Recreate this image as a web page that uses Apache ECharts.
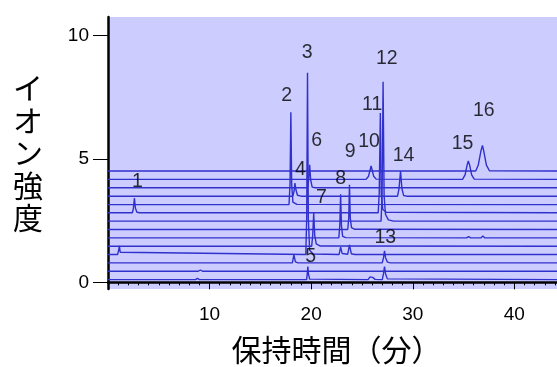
<!DOCTYPE html>
<html>
<head>
<meta charset="utf-8">
<script src="https://cdn.jsdelivr.net/npm/echarts@6/dist/echarts.min.js"></script>
<style>
html,body{margin:0;padding:0;background:#fff;}
#c{width:557px;height:367px;}
</style>
</head>
<body>
<div id="c"></div>
<script>
// --- data (retention time [min], ion intensity incl. trace offset) ---
const xTicks = [10, 20, 30, 40];
const yTicks = [0, 5, 10];
const trace0 = [[0,4.51],[36.2,4.51],[36.45,4.75],[36.7,5.3],[36.86,5.55],[37.0,5.3],[37.25,4.75],[37.55,4.52],[44.2,4.51]];
const trace1 = [[0,4.17],[25.4,4.17],[25.65,4.3],[25.8,4.55],[25.9,4.72],[26.0,4.55],[26.15,4.3],[26.4,4.18],[34.9,4.17],[35.15,4.35],[35.35,4.75],[35.47,4.92],[35.6,4.75],[35.8,4.35],[36.05,4.18],[44.2,4.17]];
const trace2 = [[0,3.83],[19.65,3.83],[19.75,4.15],[19.85,4.76],[19.95,4.15],[20.1,3.86],[20.4,3.83],[44.2,3.83]];
const trace3 = [[0,3.49],[18.2,3.49],[18.32,3.7],[18.4,4.02],[18.5,3.75],[18.65,3.53],[19.0,3.49],[28.5,3.49],[28.65,3.8],[28.8,4.51],[28.93,3.8],[29.1,3.52],[29.4,3.49],[44.2,3.49]];
const trace4 = [[0,3.15],[17.82,3.15],[17.92,4.0],[18.0,6.89],[18.08,4.0],[18.2,3.25],[18.6,3.16],[44.2,3.15]];
const trace5 = [[0,2.82],[2.4,2.82],[2.5,3.0],[2.6,3.41],[2.7,3.0],[2.85,2.84],[3.1,2.82],[26.6,2.82],[26.7,3.6],[26.81,6.86],[26.9,3.6],[27.05,2.95],[27.4,2.84],[44.2,2.82]];
const trace6 = [[0,2.48],[26.88,2.48],[26.98,3.5],[27.08,8.13],[27.18,3.5],[27.32,2.75],[27.6,2.53],[28.1,2.48],[44.2,2.48]];
const trace7 = [[0,2.14],[23.6,2.14],[23.7,2.6],[23.77,3.95],[23.85,2.6],[23.97,2.22],[24.3,2.15],[44.2,2.14]];
const trace8 = [[0,1.80],[22.72,1.80],[22.82,2.3],[22.9,3.57],[22.98,2.3],[23.1,1.86],[23.4,1.81],[35.3,1.80],[35.5,1.85],[35.7,1.80],[36.7,1.80],[36.9,1.88],[37.1,1.80],[44.2,1.80]];
const trace9 = [[0,1.46],[20.05,1.46],[20.15,1.9],[20.25,2.81],[20.35,1.9],[20.5,1.56],[20.9,1.47],[44.2,1.46]];
const trace10 = [[0,1.13],[0.95,1.13],[1.05,1.3],[1.12,1.48],[1.2,1.22],[1.35,1.14],[19.47,1.13],[19.56,2.6],[19.64,8.49],[19.72,2.6],[19.85,1.3],[20.2,1.15],[22.75,1.13],[22.9,1.43],[23.05,1.17],[23.6,1.14],[23.77,1.52],[23.95,1.16],[24.3,1.13],[44.2,1.13]];
const trace11 = [[0,0.79],[18.15,0.79],[18.3,1.11],[18.45,0.83],[18.7,0.79],[27.0,0.79],[27.12,1.0],[27.22,1.28],[27.32,1.0],[27.5,0.82],[27.8,0.79],[44.2,0.79]];
const trace12 = [[0,0.45],[8.9,0.45],[9.1,0.5],[9.3,0.45],[44.2,0.45]];
const trace13 = [[0,0.11],[8.6,0.11],[8.8,0.16],[9.0,0.11],[19.55,0.11],[19.62,0.35],[19.67,0.64],[19.73,0.35],[19.85,0.13],[25.6,0.11],[25.8,0.22],[25.9,0.30],[26.05,0.2],[26.3,0.12],[27.0,0.11],[27.12,0.35],[27.22,0.64],[27.32,0.35],[27.5,0.14],[44.2,0.11]];
const traces = [trace0,trace1,trace2,trace3,trace4,trace5,trace6,trace7,trace8,trace9,trace10,trace11,trace12,trace13];

// peak number annotations (anchor in data coordinates)
const peakNames = ['1','2','3','4','5','6','7','8','9','10','11','12','13','14','15','16'];
const peakLabelT = [2.9, 17.6, 19.6, 18.95, 19.95, 20.55, 21.0, 22.9, 23.85, 25.7, 26.0, 27.45, 27.3, 29.1, 34.9, 37.0];
const peakLabelV = [4.1, 7.55, 9.3, 4.55, 1.05, 5.75, 3.42, 4.22, 5.3, 5.7, 7.2, 9.05, 1.82, 5.12, 5.6, 6.95];

const chart = echarts.init(document.getElementById('c'), null, {renderer:'canvas'});
const lineSeries = traces.map((t, i) => ({
  type: 'line', name: 'trace' + i, data: t, showSymbol: false, smooth: false,
  lineStyle: {color: '#3030cc', width: 1.4}, silent: true, z: 3
}));
const labelSeries = {
  type: 'scatter', symbolSize: 0, silent: true, z: 5,
  data: peakNames.map((n, i) => ({name: n, value: [peakLabelT[i], peakLabelV[i]]})),
  label: {show: true, position: 'inside', formatter: p => p.name, color: '#000',
          fontSize: 19.5, fontFamily: 'Liberation Sans, Arial, sans-serif'}
};
chart.setOption({
  animation: false,
  grid: {left: 108, right: 0, top: 17, bottom: 78, show: true, backgroundColor: '#ccccff', borderWidth: 0,
         containLabel: false, outerBoundsMode: 'none'},
  xAxis: {
    type: 'value', min: 0, max: 44.2, interval: 10,
    name: '保持時間（分）', nameLocation: 'middle', nameGap: 61,
    nameTextStyle: {fontSize: 30, color: '#000', fontFamily: 'Noto Sans CJK JP', verticalAlign: 'middle',
                    padding: [0, 0, 0, 8]},
    axisLine: {show: true, lineStyle: {color: '#000', width: 2.5}},
    axisTick: {show: true, length: 7, lineStyle: {color: '#000', width: 1}},
    minorTick: {show: true, splitNumber: 10, length: 3, lineStyle: {color: '#000', width: 1}},
    axisLabel: {showMinLabel: false, showMaxLabel: false, margin: 16, color: '#000', fontSize: 19,
                fontFamily: 'Liberation Sans, Arial, sans-serif'},
    splitLine: {show: false}
  },
  yAxis: {
    type: 'value', min: -0.27, max: 10.75,
    name: 'イ\nオ\nン\n強\n度', nameLocation: 'middle', nameGap: 80, nameRotate: 0,
    nameTextStyle: {fontSize: 30, lineHeight: 32.5, color: '#000', fontFamily: 'Noto Sans CJK JP',
                    align: 'center', verticalAlign: 'middle', padding: [0, 0, 25, 0]},
    axisLine: {show: true, onZero: false, lineStyle: {color: '#000', width: 2.5}},
    axisTick: {show: true, length: 15, customValues: yTicks, lineStyle: {color: '#000', width: 1}},
    axisLabel: {customValues: yTicks, margin: 19, color: '#000', fontSize: 19,
                fontFamily: 'Liberation Sans, Arial, sans-serif'},
    splitLine: {show: false}
  },
  series: lineSeries.concat([labelSeries])
});
</script>
</body>
</html>
